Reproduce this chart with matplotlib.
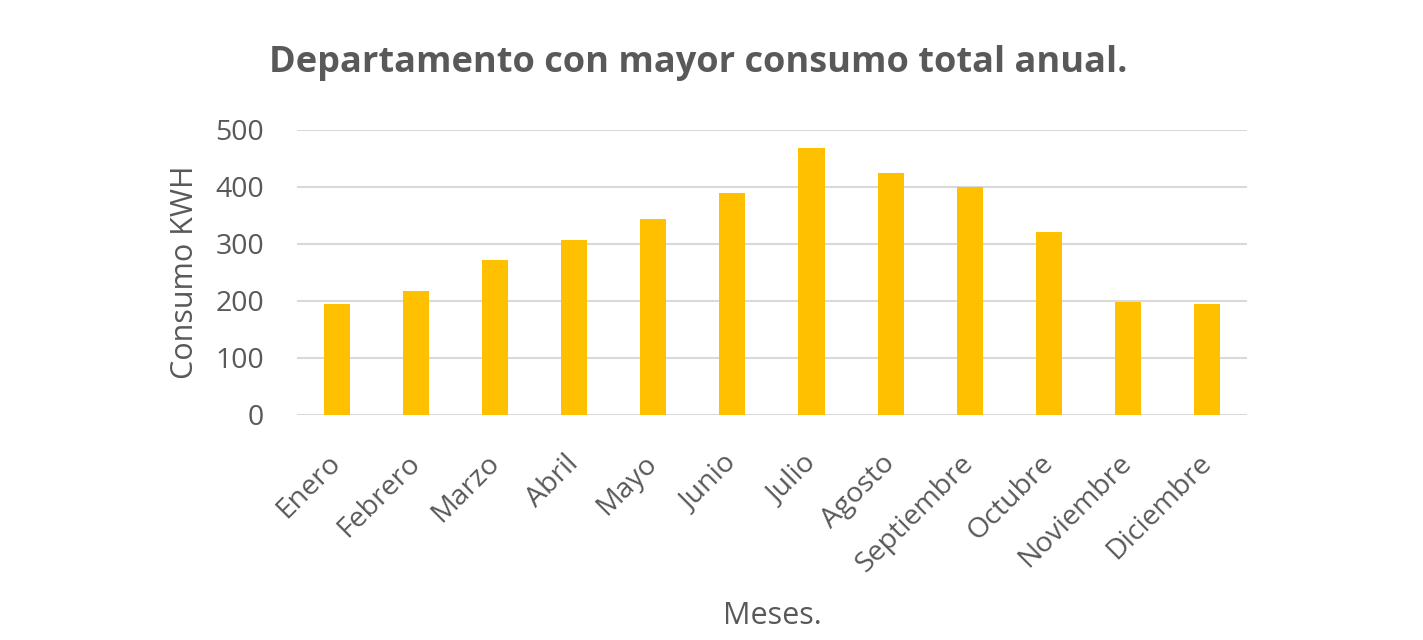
import matplotlib.pyplot as plt
import numpy as np

meses = ['Enero', 'Febrero', 'Marzo', 'Abril', 'Mayo', 'Junio', 'Julio',
         'Agosto', 'Septiembre', 'Octubre', 'Noviembre', 'Diciembre']
consumo = [194, 217, 272, 306, 344, 390, 469, 424, 400, 320, 198, 194]

plt.rcParams['font.family'] = ['Open Sans', 'DejaVu Sans']
gris = '#595959'

fig = plt.figure(figsize=(14.23, 6.4), dpi=100)
ax = fig.add_axes([0.209, 0.352, 0.667, 0.445])

x = np.arange(len(meses))
ax.bar(x, consumo, width=0.33, color='#FFC000', zorder=3)

ax.set_xlim(-0.5, len(meses) - 0.5)
ax.set_ylim(0, 500)
ax.set_yticks(range(0, 501, 100))
ax.yaxis.grid(True, color='#d9d9d9', linewidth=1.5, zorder=0)
for s in ax.spines.values():
    s.set_visible(False)
ax.tick_params(length=0, colors=gris, labelsize=20.5)
ax.tick_params(axis='y', pad=24)
ax.tick_params(axis='x', pad=32)
ax.set_xticks(x)
ax.set_xticklabels(meses, rotation=45, ha='right', va='center',
                   rotation_mode='anchor')

ax.set_ylabel('Consumo KWH', color=gris, fontsize=22)
ax.yaxis.set_label_coords(-0.103, 0.5)
ax.set_xlabel('Meses.', color=gris, fontsize=22)
ax.xaxis.set_label_coords(0.5, -0.655)
fig.text(0.491, 0.902, 'Departamento con mayor consumo total anual.',
         ha='center', va='center', fontsize=26, fontweight='bold', color=gris)

fig.savefig('out.png', dpi=100)
